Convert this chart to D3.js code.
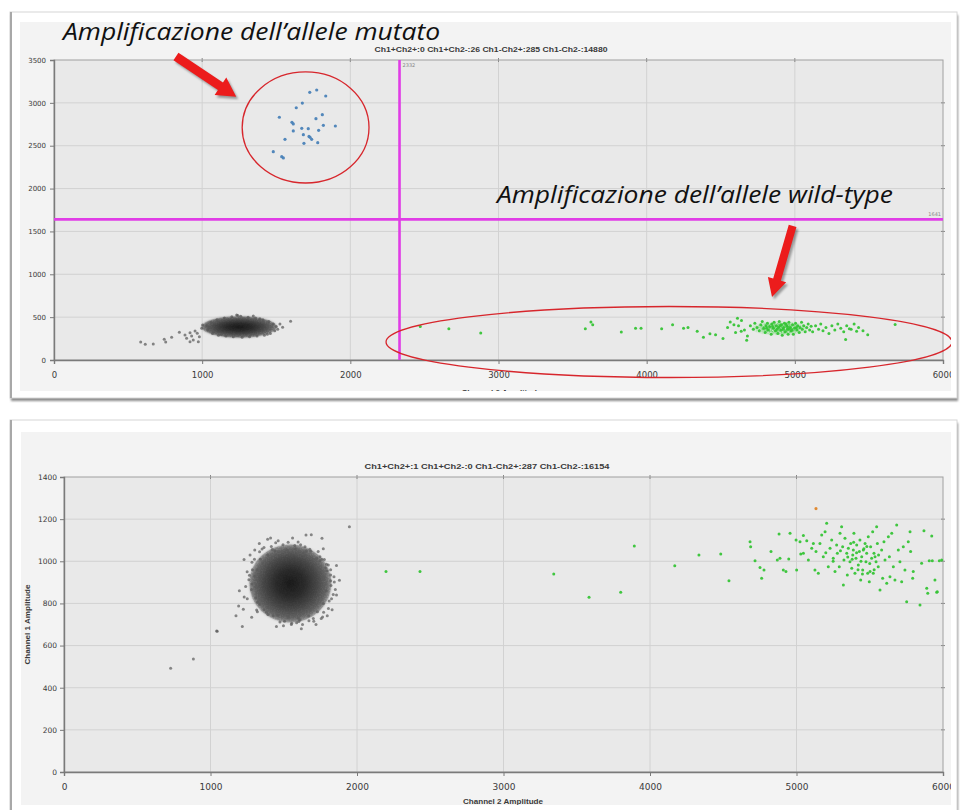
<!DOCTYPE html>
<html><head><meta charset="utf-8">
<script src="https://cdn.jsdelivr.net/npm/d3@7"></script>
<style>
html,body{margin:0;padding:0;background:#fff;}
svg{display:block;}
</style></head><body>
<svg id="chart" width="960" height="810"></svg>
<script>
// ---------- axes ----------
const xTicks = [0, 1000, 2000, 3000, 4000, 5000, 6000];
const topYTicks = [0, 500, 1000, 1500, 2000, 2500, 3000, 3500];
const bottomYTicks = [0, 200, 400, 600, 800, 1000, 1200, 1400];
const xAxisTitle = "Channel 2 Amplitude";
const yAxisTitle = "Channel 1 Amplitude";

// ---------- droplet counts ----------
const topCounts = "Ch1+Ch2+:0 Ch1+Ch2-:26 Ch1-Ch2+:285 Ch1-Ch2-:14880";
const bottomCounts = "Ch1+Ch2+:1 Ch1+Ch2-:0 Ch1-Ch2+:287 Ch1-Ch2-:16154";

// ---------- thresholds (top run) ----------
const topThresholdCh2 = 2332;
const topThresholdCh1 = 1641;

// ---------- top run: droplets [Ch2, Ch1] ----------
const topMutant = [
  [1773,3150],[1726,3123],[1834,3080],[1676,2998],[1635,2943],[1521,2832],[1811,2862],
  [1768,2815],[1606,2773],[1615,2754],[1818,2738],[1899,2730],[1672,2703],[1716,2699],
  [1615,2672],[1786,2680],[1683,2629],[1728,2598],[1739,2575],[1559,2575],[1780,2535],
  [1687,2528],[1480,2430],[1537,2372],[1548,2357],[1721,2608]
];
const topWildType = [
  [2472,392],[2665,366],[2880,315],[3586,366],[3624,443],[3636,410],[3829,328],[3925,371],
  [3962,371],[4101,366],[4175,410],[4249,371],[4279,379],[4341,336],[4383,264],[4427,307],
  [4465,294],[4515,251],[4546,379],[4564,443],[4589,410],[4613,486],[4638,336],[4675,230],
  [5492,294],[5677,413],[5417,336],[5343,238],[5368,366],
  [4700,400],[4720,360],[4730,430],[4745,380],[4760,340],[4770,410],[4780,450],[4790,370],
  [4800,320],[4805,400],[4815,430],[4820,350],[4830,390],[4840,300],[4845,420],[4855,370],
  [4860,440],[4870,340],[4875,400],[4885,310],[4890,380],[4895,450],[4905,350],[4910,410],
  [4915,290],[4925,380],[4930,430],[4935,330],[4945,400],[4950,360],[4955,300],[4960,440],
  [4970,380],[4975,340],[4985,410],[4990,300],[5000,370],[5005,430],[5015,350],[5020,400],
  [5030,320],[5035,380],[5045,440],[5050,360],[5060,400],[5070,330],[5080,380],[5090,420],
  [5100,350],[5110,395],[4880,360],[4920,360],[4960,360],[4900,400],[4940,420],[4980,350],
  [5010,380],[4850,390],[4810,370],[4950,390],
  [5120,330],[5140,400],[5160,360],[5175,420],[5190,340],[5210,380],[5230,310],[5250,400],
  [5270,350],[5290,420],[5310,370],[5330,330],[5350,400],[5380,360],[5400,420],[5430,380],
  [5460,340],[4640,460],[4660,350],[4600,320],[4620,400],[4680,280]
];
// dense core of the wild-type cluster: [Ch2 centre, Ch1 centre, Ch2 spread, Ch1 spread]
const topWildTypeCore = [4900, 370, 200, 85];
// double-negative cluster core and its scattered edge droplets
const topNegativeCore = [1250, 385, 255, 125];
const topNegative = [
  [585,210],[616,183],[670,187],[744,241],[754,210],[794,264],[846,323],[884,292],[895,253],
  [918,319],[929,280],[940,233],[952,338],[967,311],[981,272],[997,370],[1003,408],[974,214],
  [918,214],[1597,451],[1543,381],[1525,420],[1345,513],[1233,525],
  [1030,400],[1040,350],[1060,440],[1070,310],[1100,470],[1110,290],[1150,490],[1160,280],
  [1200,505],[1210,270],[1260,510],[1270,265],[1310,500],[1320,270],[1360,490],[1370,280],
  [1410,470],[1420,290],[1450,450],[1460,310],[1480,420],[1490,340],[1500,390],[1050,380],
  [1080,330],[1130,300],[1240,520],[1390,480],[1440,300],[1510,360]
];

// ---------- bottom run: droplets [Ch2, Ch1] ----------
const bottomWildType = [
  [2198,951],[2430,951],[3343,940],[3584,829],[3800,853],[3893,1073],[4169,979],[4334,1030],
  [4483,1035],[4539,908],[4683,1093],[4687,1069],[4717,1003],[4751,971],[4762,919],[4778,959],
  [4826,1046],[4869,1006],[4881,1130],[4887,1014],[4910,959],[4928,951],[4947,1011],[4956,1133],
  [4997,1101],[5001,959],[5024,1093],[5029,1035],[5047,1038],[5047,1122],[5070,1098],[5081,1006],
  [5104,1062],[5115,1085],[5126,959],[5133,1046],[5149,943],[5160,1085],[5172,1125],[5183,1022],
  [5195,1140],[5206,1180],[5217,974],[5229,1062],[5240,1101],[5251,1014],[5263,951],[5274,1077],
  [5279,1038],[5292,974],[5297,1133],[5308,1164],[5315,1069],[5320,888],[5324,1006],[5331,1109],
  [5343,1038],[5347,935],[5354,1062],[5365,998],[5370,1085],[5377,967],[5384,1030],[5388,1054],
  [5392,1133],[5399,943],[5406,1014],[5411,1077],[5422,982],[5429,1046],[5433,1101],[5438,911],
  [5445,1022],[5452,959],[5456,1054],[5468,1085],[5474,998],[5479,1038],[5486,943],[5490,1117],
  [5497,903],[5502,951],[5506,1069],[5513,1014],[5520,1140],[5524,943],[5529,1038],[5536,1022],
  [5543,998],[5547,1164],[5552,1085],[5558,974],[5570,864],[5581,1054],[5588,919],[5597,1093],
  [5604,1006],[5616,896],[5627,1117],[5634,1022],[5638,927],[5650,1133],[5661,974],[5672,911],
  [5684,1172],[5695,1054],[5706,998],[5718,903],[5729,1069],[5740,959],[5752,808],[5763,1093],
  [5775,1140],[5779,1046],[5793,919],[5797,951],[5843,793],[5854,991],[5870,1145],[5889,872],
  [5906,1003],[5923,1120],[5927,1003],[5945,911],[5961,856],[5975,1003],[5991,1006],[5896,848],
  [5957,853],[5410,1040],[5440,1000],[5460,1060],[5380,1010],[5500,990],[5350,1020],[5420,960],
  [5480,1070],[5300,1050],[5530,960],[5560,1030],[5250,1000],[5200,1040],[5390,1090],[5450,940]
];
const bottomDouble = [[5133,1250]];
const bottomNegativeCore = [1545, 895, 280, 185];
const bottomNegative = [
  [728,492],[883,536],[1046,668],[1042,669],[1217,690],[1174,742],[1224,772],[1192,788],
  [1251,822],[1197,860],[1229,1009],[1302,1054],[1333,1085],[1390,1104],[1652,1125],[1688,1126],
  [1761,1109],[1948,1164],[1281,734],[1315,769],[1797,742],[1820,935],[1843,927],[1804,982],
  [1777,1009],[1747,1022],[1645,1069],[1554,706],[1611,721],[1702,729],
  [1300,1010],[1335,1045],[1365,1065],[1415,1070],[1445,1088],[1495,1078],[1530,1090],[1575,1075],
  [1615,1078],[1655,1050],[1685,1048],[1725,1015],[1745,1002],[1785,968],[1795,955],[1820,908],
  [1822,885],[1838,842],[1810,812],[1805,776],[1772,758],[1756,728],[1705,716],[1672,718],
  [1628,700],[1588,708],[1552,700],[1505,716],[1474,712],[1428,741],[1392,748],[1366,770],
  [1322,806],[1309,826],[1280,866],[1282,892],[1266,934],[1286,960],[1283,996],[1352,1058],
  [1462,1098],[1598,1092],[1735,1046],[1845,902],[1852,866],[1765,736],[1498,694],[1336,796],
  [1262,912],[1421,1056],[1678,1057],[1792,986],[1826,822],[1603,714],[1382,758],
  [1320,960],[1340,1010],[1390,1030],[1440,1050],[1520,1055],[1580,1060],[1640,1040],[1700,1010],
  [1740,960],[1770,920],[1790,860],[1770,800],[1730,760],[1670,740],[1600,730],[1530,735],
  [1460,745],[1400,780],[1350,820],[1310,880],[1300,930],[1360,990],[1760,1010],[1820,960],
  [1860,840],[1240,880],[1250,950],[1320,760],[1880,910],[1860,980],[1770,1060],[1270,1030],
  [1230,830],[1410,1110],[1560,1110],[1620,680],[1450,690],[1720,700],[1830,770]
];

// ---------- annotations (top run, in data units) ----------
const mutantLabel = "Amplificazione dell\u2019allele mutato";
const wildTypeLabel = "Amplificazione dell\u2019allele wild-type";
const mutantLabelAt = [61, 3730];
const wildTypeLabelAt = [2990, 1835];
const mutantArrow = [[823, 3540], [1230, 3070]];
const wildTypeArrow = [[4985, 1565], [4846, 735]];
const mutantRing = [1698, 2713, 428, 648];
const wildTypeRing = [4151, 210, 1910, 414];

// ---------- drawing ----------
const svg = d3.select("#chart");
const defs = svg.append("defs");

const shadow = defs.append("filter").attr("id", "shadow").attr("x", "-20%").attr("y", "-20%").attr("width", "140%").attr("height", "140%");
shadow.append("feGaussianBlur").attr("stdDeviation", 1.2);
const soft = defs.append("filter").attr("id", "soft");
soft.append("feGaussianBlur").attr("stdDeviation", 0.8);

// grainy fill for the dense droplet clouds
function grainFilter(id, gain, offset) {
  const f = defs.append("filter").attr("id", id).attr("x", "-5%").attr("y", "-5%").attr("width", "110%").attr("height", "110%");
  f.append("feTurbulence").attr("type", "fractalNoise").attr("baseFrequency", 0.75).attr("numOctaves", 2).attr("seed", 3).attr("result", "noise");
  f.append("feColorMatrix").attr("in", "noise").attr("type", "matrix")
    .attr("values", `0 0 0 0 0  0 0 0 0 0  0 0 0 0 0  ${gain} 0 0 0 ${offset}`).attr("result", "mask");
  f.append("feComposite").attr("in", "SourceGraphic").attr("in2", "mask").attr("operator", "in").attr("result", "speckled");
  f.append("feGaussianBlur").attr("in", "speckled").attr("stdDeviation", 0.45);
}
grainFilter("grain", 1.8, -0.2);
grainFilter("grainSoft", 1.4, 0.2);

function card(box, inner, id) {
  const g = svg.append("g");
  g.append("rect").attr("x", box.x + 1).attr("y", box.y + 3).attr("width", box.w).attr("height", box.h)
    .attr("fill", "#8c8c8c").attr("filter", "url(#shadow)");
  g.append("rect").attr("x", box.x).attr("y", box.y).attr("width", box.w).attr("height", box.h)
    .attr("fill", "#fff").attr("stroke", "#d6d6d6");
  g.append("line").attr("x1", box.x + 1).attr("x2", box.x + 1).attr("y1", box.y).attr("y2", box.y + box.h)
    .attr("stroke", "#a8a8a8").attr("stroke-width", 2);
  g.append("rect").attr("x", inner.x).attr("y", inner.y).attr("width", inner.w).attr("height", inner.h)
    .attr("fill", "#f3f3f3");
  defs.append("clipPath").attr("id", id).append("rect")
    .attr("x", inner.x).attr("y", inner.y).attr("width", inner.w).attr("height", inner.h);
  return g.append("g").attr("clip-path", `url(#${id})`);
}

function plot(root, cfg) {
  const x = d3.scaleLinear().domain([0, 6000]).range([cfg.left, cfg.right]);
  const y = d3.scaleLinear().domain([0, cfg.yMax]).range([cfg.bottom, cfg.top]);
  root.append("rect").attr("x", cfg.left).attr("y", cfg.top)
    .attr("width", cfg.right - cfg.left).attr("height", cfg.bottom - cfg.top).attr("fill", "#e9e9e9");
  // grid
  root.append("g").selectAll("line").data(xTicks.slice(1, -1)).join("line")
    .attr("x1", d => x(d)).attr("x2", d => x(d)).attr("y1", cfg.top).attr("y2", cfg.bottom)
    .attr("stroke", "#d2d2d2");
  root.append("g").selectAll("line").data(cfg.yTicks.slice(1, -1)).join("line")
    .attr("y1", d => y(d)).attr("y2", d => y(d)).attr("x1", cfg.left).attr("x2", cfg.right)
    .attr("stroke", "#d2d2d2");
  // frame ticks on top and right edges
  root.append("g").selectAll("line").data(xTicks.slice(1, -1)).join("line")
    .attr("x1", d => x(d)).attr("x2", d => x(d)).attr("y1", cfg.top - 2).attr("y2", cfg.top + 2)
    .attr("stroke", "#888");
  root.append("g").selectAll("line").data(cfg.yTicks.slice(1, -1)).join("line")
    .attr("y1", d => y(d)).attr("y2", d => y(d)).attr("x1", cfg.right - 2).attr("x2", cfg.right + 2)
    .attr("stroke", "#888");
  root.append("rect").attr("x", cfg.left).attr("y", cfg.top)
    .attr("width", cfg.right - cfg.left).attr("height", cfg.bottom - cfg.top)
    .attr("fill", "none").attr("stroke", "#a0a0a0");
  // axes
  const xa = root.append("g").attr("transform", `translate(0,${cfg.bottom})`)
    .call(d3.axisBottom(x).tickValues(xTicks).tickSize(4).tickPadding(cfg.xPad).tickFormat(d3.format("d")));
  const ya = root.append("g").attr("transform", `translate(${cfg.left},0)`)
    .call(d3.axisLeft(y).tickValues(cfg.yTicks).tickSize(4).tickPadding(cfg.yPad).tickFormat(d3.format("d")));
  [xa, ya].forEach(a => {
    a.select(".domain").attr("stroke", "#7a7a7a").attr("stroke-width", 1.4);
    a.selectAll(".tick line").attr("stroke", "#7a7a7a");
    a.selectAll("text").attr("fill", "#3a3a3a").attr("font-family", "DejaVu Sans, sans-serif");
  });
  xa.selectAll("text").attr("font-size", cfg.xFont);
  ya.selectAll("text").attr("font-size", cfg.yFont);
  return { x, y };
}

function dots(root, s, pts, color, r, op) {
  root.append("g").selectAll("circle").data(pts).join("circle")
    .attr("cx", d => s.x(d[0])).attr("cy", d => s.y(d[1])).attr("r", r)
    .attr("fill", color).attr("fill-opacity", op);
}

function blob(root, s, core, id, stops, filters) {
  const grad = defs.append("radialGradient").attr("id", id);
  stops.forEach(t => grad.append("stop").attr("offset", t[0]).attr("stop-color", t[1]).attr("stop-opacity", t[2]));
  filters.forEach(f => {
    root.append("ellipse")
      .attr("cx", s.x(core[0])).attr("cy", s.y(core[1]))
      .attr("rx", s.x(core[0] + core[2]) - s.x(core[0]))
      .attr("ry", s.y(core[1]) - s.y(core[1] + core[3]))
      .attr("fill", `url(#${id})`).attr("filter", `url(#${f})`);
  });
}

function arrow(root, s, a, w, hw, hl) {
  const x1 = s.x(a[0][0]), y1 = s.y(a[0][1]), x2 = s.x(a[1][0]), y2 = s.y(a[1][1]);
  const L = Math.hypot(x2 - x1, y2 - y1), ux = (x2 - x1) / L, uy = (y2 - y1) / L, nx = -uy, ny = ux;
  const bx = x2 - ux * hl, by = y2 - uy * hl;
  const pts = [[x1 + nx * w / 2, y1 + ny * w / 2], [bx + nx * w / 2, by + ny * w / 2], [bx + nx * hw / 2, by + ny * hw / 2],
    [x2, y2], [bx - nx * hw / 2, by - ny * hw / 2], [bx - nx * w / 2, by - ny * w / 2], [x1 - nx * w / 2, y1 - ny * w / 2]];
  const path = "M" + pts.map(p => p.join(",")).join("L") + "Z";
  root.append("path").attr("d", path).attr("transform", "translate(2,2.5)")
    .attr("fill", "#000").attr("fill-opacity", 0.35).attr("filter", "url(#shadow)");
  root.append("path").attr("d", path).attr("fill", "#ec1c1c");
}

function ring(root, s, e) {
  root.append("ellipse").attr("cx", s.x(e[0])).attr("cy", s.y(e[1]))
    .attr("rx", s.x(e[0] + e[2]) - s.x(e[0])).attr("ry", s.y(e[1]) - s.y(e[1] + e[3]))
    .attr("fill", "none").attr("stroke", "#d7262c").attr("stroke-width", 1.3);
}

function label(root, x, y, txt, size, width, anchor) {
  return root.append("text").attr("x", x).attr("y", y).attr("text-anchor", anchor || "middle")
    .attr("font-family", "Liberation Sans, Arial, sans-serif").attr("font-size", size)
    .attr("font-weight", "bold").attr("fill", "#3a3a3a")
    .attr("textLength", width).attr("lengthAdjust", "spacingAndGlyphs").text(txt);
}

function callout(root, x, y, txt, width) {
  root.append("text").attr("x", x).attr("y", y)
    .attr("font-family", "Open Sans, sans-serif").attr("font-style", "italic").attr("font-size", 24)
    .attr("textLength", width).attr("lengthAdjust", "spacingAndGlyphs")
    .attr("fill", "#111").text(txt);
}

const negStops = [["0%", "#1a1a1a", 1], ["35%", "#2a2a2a", 0.98], ["65%", "#444", 0.92],
  ["88%", "#5c5c5c", 0.82], ["100%", "#6c6c6c", 0.45]];

// ===== top run =====
const topRoot = card({ x: 10, y: 12, w: 947, h: 386 }, { x: 20, y: 22, w: 931, h: 369 }, "clipTop");
const ts = plot(topRoot, { left: 54, right: 943, top: 60, bottom: 360, yMax: 3500, yTicks: topYTicks,
  xFont: 8.5, yFont: 7, xPad: 8, yPad: 4 });

label(topRoot, 491, 52, topCounts, 7.6, 233);
label(topRoot, (ts.x(0) + ts.x(6000)) / 2 + 3, 395, xAxisTitle, 7.5, 80);

// thresholds
topRoot.append("line").attr("x1", ts.x(topThresholdCh2)).attr("x2", ts.x(topThresholdCh2))
  .attr("y1", ts.y(3500)).attr("y2", ts.y(0)).attr("stroke", "#e03de6").attr("stroke-width", 2.6);
topRoot.append("line").attr("x1", ts.x(0)).attr("x2", ts.x(6000))
  .attr("y1", ts.y(topThresholdCh1)).attr("y2", ts.y(topThresholdCh1)).attr("stroke", "#e03de6").attr("stroke-width", 2.6);
topRoot.append("text").attr("x", ts.x(topThresholdCh2) + 3).attr("y", ts.y(3500) + 7)
  .attr("font-family", "DejaVu Sans, sans-serif").attr("font-size", 5).attr("fill", "#888").text(topThresholdCh2);
topRoot.append("text").attr("x", ts.x(6000) - 2).attr("y", ts.y(topThresholdCh1) - 3).attr("text-anchor", "end")
  .attr("font-family", "DejaVu Sans, sans-serif").attr("font-size", 5).attr("fill", "#888").text(topThresholdCh1);

blob(topRoot, ts, topNegativeCore, "gTopNeg", negStops, ["soft", "grainSoft"]);
dots(topRoot, ts, topNegative, "#555", 1.5, 0.7);
blob(topRoot, ts, topWildTypeCore, "gTopWt", [["0%", "#36cc36", 0.95], ["60%", "#40cf40", 0.7], ["100%", "#5fd85f", 0.1]], ["grain"]);
dots(topRoot, ts, topWildType, "#36c436", 1.5, 0.95);
dots(topRoot, ts, topMutant, "#4a82b8", 1.6, 0.95);

ring(topRoot, ts, mutantRing);
ring(topRoot, ts, wildTypeRing);
arrow(topRoot, ts, mutantArrow, 9, 21, 19);
arrow(topRoot, ts, wildTypeArrow, 8, 19, 18);

callout(topRoot, ts.x(mutantLabelAt[0]), ts.y(mutantLabelAt[1]), mutantLabel, 377);
callout(topRoot, ts.x(wildTypeLabelAt[0]), ts.y(wildTypeLabelAt[1]), wildTypeLabel, 396);

// ===== bottom run =====
const botRoot = card({ x: 10, y: 420, w: 947, h: 400 }, { x: 21, y: 432, w: 930, h: 373 }, "clipBot");
const bs = plot(botRoot, { left: 64, right: 943, top: 477, bottom: 772, yMax: 1400, yTicks: bottomYTicks,
  xFont: 9, yFont: 7.5, xPad: 8, yPad: 3 });

label(botRoot, 487, 469, bottomCounts, 7.8, 245);
label(botRoot, 503, 804, xAxisTitle, 7.5, 80);
botRoot.append("text").attr("transform", `translate(30,${(bs.y(0) + bs.y(1400)) / 2}) rotate(-90)`)
  .attr("text-anchor", "middle").attr("font-family", "Liberation Sans, Arial, sans-serif")
  .attr("font-size", 7.5).attr("font-weight", "bold").attr("fill", "#3a3a3a")
  .attr("textLength", 80).attr("lengthAdjust", "spacingAndGlyphs").text(yAxisTitle);

blob(botRoot, bs, bottomNegativeCore, "gBotNeg", negStops, ["soft", "grainSoft"]);
dots(botRoot, bs, bottomNegative, "#5a5a5a", 1.5, 0.7);
dots(botRoot, bs, bottomWildType, "#36c436", 1.5, 0.95);
dots(botRoot, bs, bottomDouble, "#e08a33", 1.6, 1);
</script></body></html>
